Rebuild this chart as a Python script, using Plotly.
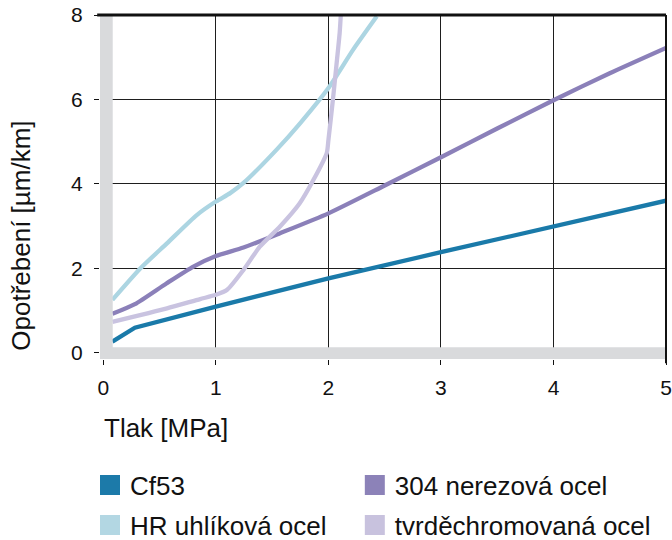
import plotly.graph_objects as go

# ---- data ----
cf53_x = [0.08, 0.28, 1.0, 2.0, 3.0, 4.0, 5.0]
cf53_y = [0.26, 0.59, 1.09, 1.76, 2.38, 3.0, 3.6]

ss304_x = [0.08, 0.28, 0.56, 0.80, 1.0, 1.245, 1.57, 2.0, 2.5, 3.0, 3.5, 4.0, 4.5, 5.0]
ss304_y = [0.92, 1.15, 1.64, 2.04, 2.29, 2.49, 2.83, 3.30, 3.96, 4.63, 5.31, 5.98, 6.62, 7.22]

hr_x = [0.08, 0.33, 0.565, 0.83, 1.0, 1.127, 1.245, 1.54, 1.75, 2.0, 2.22, 2.43]
hr_y = [1.25, 2.0, 2.59, 3.26, 3.58, 3.78, 4.02, 4.81, 5.44, 6.27, 7.18, 7.97]

hc_x = [0.08, 0.565, 0.86, 1.0, 1.10, 1.245, 1.39, 1.57, 1.745, 1.866, 1.985, 2.0, 2.04, 2.07, 2.10, 2.11]
hc_y = [0.73, 1.05, 1.27, 1.37, 1.49, 1.96, 2.51, 2.99, 3.54, 4.09, 4.73, 5.04, 6.0, 6.78, 7.58, 8.0]

names = ["Cf53", "304 nerezová ocel", "HR uhlíková ocel", "tvrděchromovaná ocel"]
colors = ["#1a7aa9", "#8b80b9", "#acd5e2", "#c9c3e0"]
legend_colors = ["#1c7aa9", "#8c82b8", "#b3d7e3", "#c8c2de"]

x_ticks = [0, 1, 2, 3, 4, 5]
y_ticks = [0, 2, 4, 6, 8]
x_title = "Tlak [MPa]"
y_title = "Opotřebení [µm/km]"

FONT = "Liberation Sans, Arial, Helvetica, sans-serif"
TXT = "#111111"

fig = go.Figure()
series = [(cf53_x, cf53_y, "linear"), (ss304_x, ss304_y, "spline"),
          (hr_x, hr_y, "spline"), (hc_x, hc_y, "spline")]
for (xs, ys, shape), c in zip(series, colors):
    fig.add_trace(go.Scatter(x=xs, y=ys, mode="lines",
                             line=dict(color=c, width=4.3, shape=shape, smoothing=0.6),
                             showlegend=False, hoverinfo="skip"))

# legend-only square markers; one legend box per entry (2 x 2 grid)
legend_ids = ["legend", "legend2", "legend3", "legend4"]
for n, c, lg in zip(names, legend_colors, legend_ids):
    fig.add_trace(go.Scatter(x=[None], y=[None], mode="markers", name=n,
                             marker=dict(symbol="square", size=16, color=c,
                                         line=dict(color=c, width=4)),
                             legend=lg, showlegend=True))

GRAY = "#d9dadc"
# gray axis bars
fig.add_shape(type="rect", xref="x", yref="y", x0=-0.03, x1=0.083, y0=-0.15, y1=8,
              fillcolor=GRAY, line_width=0, layer="above")
fig.add_shape(type="rect", xref="x", yref="y", x0=-0.03, x1=5, y0=-0.15, y1=0.13,
              fillcolor=GRAY, line_width=0, layer="above")
# top & right borders (paper refs so they are not clipped)
fig.add_shape(type="line", xref="paper", yref="paper", x0=-0.005, x1=1.0, y0=1, y1=1,
              line=dict(color="#111111", width=3), layer="above")
fig.add_shape(type="line", xref="paper", yref="paper", x0=1, x1=1, y0=-0.012, y1=1,
              line=dict(color="#111111", width=2), layer="above")

def legend_box(xp, yp):
    return dict(orientation="h", x=xp, xanchor="left", y=yp, yanchor="middle",
                font=dict(size=26, color=TXT, family=FONT), itemsizing="trace",
                bgcolor="rgba(0,0,0,0)")

COL1, COL2 = -0.0177, 0.4502
ROW1, ROW2 = -0.3663, -0.4826

fig.update_layout(
    width=672, height=540,
    margin=dict(l=100, r=5.5, t=15, b=181, autoexpand=False),
    paper_bgcolor="white", plot_bgcolor="white",
    font=dict(family=FONT, size=21, color=TXT),
    xaxis=dict(range=[-0.03, 5], tickvals=x_ticks, ticktext=[str(v) for v in x_ticks],
               showgrid=True, gridcolor="#1e1e1e", gridwidth=1.2, zeroline=False,
               ticks="outside", ticklen=5, tickcolor="#111111", tickwidth=1,
               ticklabelstandoff=5, ticklabeloverflow="allow", showline=False,
               automargin=False,
               tickfont=dict(size=21, color=TXT, family=FONT)),
    yaxis=dict(range=[-0.15, 8], tickvals=y_ticks, ticktext=[str(v) for v in y_ticks],
               showgrid=True, gridcolor="#1e1e1e", gridwidth=1.2, zeroline=False,
               ticks="outside", ticklen=5, tickcolor="#111111", tickwidth=1,
               ticklabelstandoff=7, ticklabeloverflow="allow", showline=False,
               automargin=False,
               tickfont=dict(size=21, color=TXT, family=FONT)),
    legend=legend_box(COL1, ROW1),
    legend2=legend_box(COL2, ROW1),
    legend3=legend_box(COL1, ROW2),
    legend4=legend_box(COL2, ROW2),
    annotations=[
        dict(text=x_title, xref="x", x=-0.01, xanchor="left", yref="paper", y=-0.2006,
             yanchor="middle", showarrow=False,
             font=dict(size=26, color=TXT, family=FONT)),
        dict(text=y_title, xref="paper", x=-0.1395, xanchor="center", yref="y", y=0,
             yanchor="bottom", textangle=-90, showarrow=False,
             font=dict(size=26, color=TXT, family=FONT)),
    ],
)

# remove the default 8px page margin so the figure fills the window exactly
fig.write_html("out.html",
               config={"displayModeBar": False},
               post_script="document.body.style.margin='0px';"
                           "document.body.style.overflow='hidden';")
